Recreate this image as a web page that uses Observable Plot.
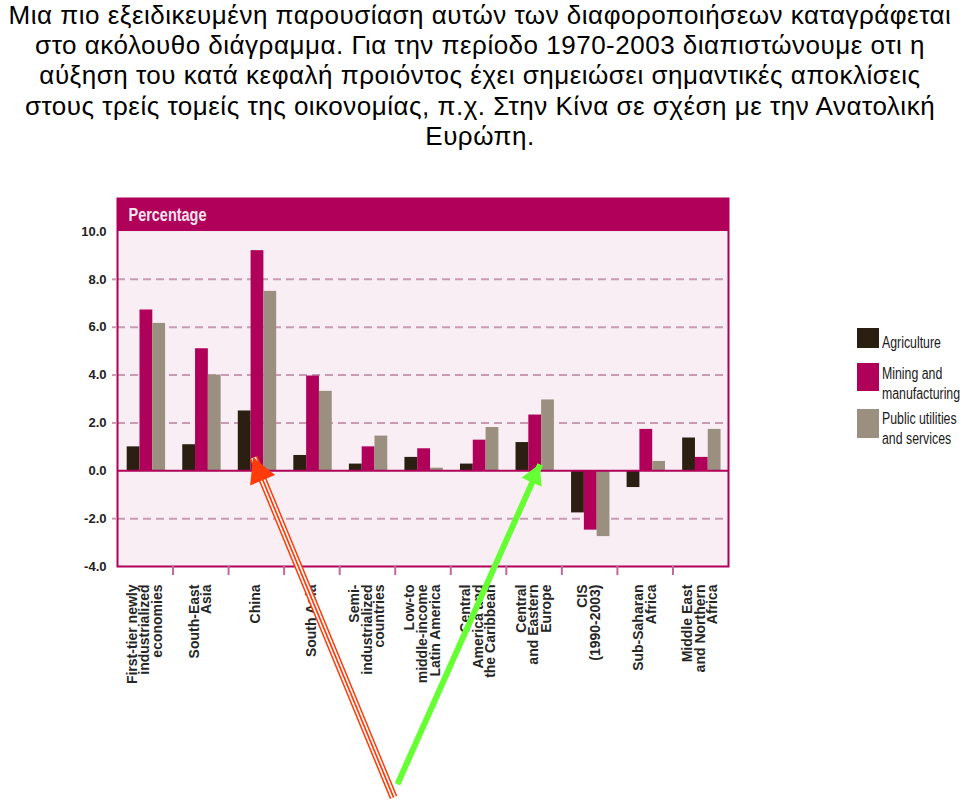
<!DOCTYPE html>
<html>
<head>
<meta charset="utf-8">
<script src="https://cdn.jsdelivr.net/npm/d3@7"></script>
<script src="https://cdn.jsdelivr.net/npm/@observablehq/plot@0.6"></script>
<style>
  html, body { margin: 0; padding: 0; background: #fff; }
  body { position: relative; width: 960px; height: 800px; overflow: hidden; font-family: "Liberation Sans", Arial, sans-serif; }
  #intro { position: absolute; top: 0; left: 0; width: 960px; text-align: center; font-size: 26px; letter-spacing: 0.5px; line-height: 30.2px; color: #000; white-space: nowrap; }
  #chart { position: absolute; top: 190px; left: 0; }
  .legend-item { position: absolute; left: 857px; }
  .legend-swatch { position: absolute; left: 0; width: 22px; }
  .legend-text { position: absolute; left: 25px; font-family: "Liberation Sans", Arial, sans-serif; font-size: 16px; line-height: 20px; color: #1a1a1a; white-space: nowrap; transform: scaleX(0.77); transform-origin: 0 0; }
</style>
</head>
<body>
<div id="intro"></div>
<div id="chart"></div>
<div id="legend"></div>
<script>
// ---- text ----
const introLines = [
  "Μια πιο εξειδικευμένη παρουσίαση αυτών των διαφοροποιήσεων καταγράφεται",
  "στο ακόλουθο διάγραμμα. Για την περίοδο 1970-2003 διαπιστώνουμε οτι η",
  "αύξηση του κατά κεφαλή προιόντος έχει σημειώσει σημαντικές αποκλίσεις",
  "στους τρείς τομείς της οικονομίας, π.χ. Στην Κίνα σε σχέση με την Ανατολική",
  "Ευρώπη."
];
const panelTitle = "Percentage";

// ---- data ----
const regions = [
  "First-tier newly\nindustrialized\neconomies",
  "South-East\nAsia",
  "China",
  "South Asia",
  "Semi-\nindustrialized\ncountries",
  "Low-to\nmiddle-income\nLatin America",
  "Central\nAmerica and\nthe Caribbean",
  "Central\nand Eastern\nEurope",
  "CIS\n(1990-2003)",
  "Sub-Saharan\nAfrica",
  "Middle East\nand Northern\nAfrica"
];
const sectors = ["Agriculture", "Mining and\nmanufacturing", "Public utilities\nand services"];
const agriculture = [1.0, 1.09, 2.5, 0.64, 0.28, 0.56, 0.28, 1.18, -1.76, -0.7, 1.37];
const mining      = [6.72, 5.1, 9.2, 3.96, 1.0, 0.92, 1.28, 2.33, -2.48, 1.73, 0.56];
const services    = [6.16, 4.0, 7.5, 3.32, 1.45, 0.11, 1.81, 2.96, -2.75, 0.39, 1.73];
const yTickValues = [10, 8, 6, 4, 2, 0, -2, -4];
const gridValues = [8, 6, 4, 2, -2];
// annotation arrows (data units: x = region index, y = percentage)
const arrowTails = [[4.97, -13.65], [5.04, -13.1]];
const arrowTips  = [[2.45, 0.55], [7.61, 0.26]];

// ---- styles ----
const colors = ["#2a1f10", "#b0005a", "#9b9080"];
const magenta = "#b0005a";
const panelBg = "#f8eef3";
const gridColor = "#c99bb3";
const labelFont = "'Liberation Sans', Arial, sans-serif";

// intro text
document.getElementById("intro").innerHTML = introLines.map(l => `<div>${l}</div>`).join("");

// long data
const seriesValues = [agriculture, mining, services];
const data = regions.flatMap((r, i) => sectors.map((s, j) => ({i, j, region: r, sector: s, value: seriesValues[j][i]})));

const W = 960, H = 610;
const mL = 117, mR = 232, mT = 8, mB = 234;
const band = (W - mL - mR) / regions.length;
const padLeft = 9.7, barW = 12.8;
const yDomain = [-4, 11.38]; // top part hosts the title bar
const yTop = yDomain[1];

const barMarks = sectors.map((s, j) => Plot.rectY(data.filter(d => d.j === j), {
  x1: d => d.i, x2: d => d.i + 1, y1: 0, y2: "value",
  fill: colors[j],
  insetLeft: padLeft + j * barW,
  insetRight: band - padLeft - (j + 1) * barW
}));

const arrows = arrowTails.map((t, k) => ({x1: t[0], y1: t[1], x2: arrowTips[k][0], y2: arrowTips[k][1], k}));

function arrowHeads(list, {fill, len, width}) {
  return Plot.link(list, {
    x1: "x1", y1: "y1", x2: "x2", y2: "y2",
    render(index, scales) {
      const g = d3.create("svg:g");
      for (const i of index) {
        const d = list[i];
        const X1 = scales.x(d.x1), Y1 = scales.y(d.y1), X2 = scales.x(d.x2), Y2 = scales.y(d.y2);
        const L = Math.hypot(X2 - X1, Y2 - Y1);
        const ux = (X2 - X1) / L, uy = (Y2 - Y1) / L;
        const bx = X2 - ux * len, by = Y2 - uy * len;
        const px = -uy * width / 2, py = ux * width / 2;
        g.append("path")
          .attr("d", `M${X2},${Y2}L${bx + px},${by + py}L${bx - px},${by - py}Z`)
          .attr("fill", fill);
      }
      return g.node();
    }
  });
}

const plot = Plot.plot({
  width: W, height: H,
  marginLeft: mL, marginRight: mR, marginTop: mT, marginBottom: mB,
  style: {background: "transparent", overflow: "visible", fontFamily: labelFont},
  x: {type: "linear", domain: [0, regions.length], label: null},
  y: {domain: yDomain, label: null},
  marks: [
    Plot.frame({fill: panelBg}),
    Plot.ruleY(gridValues, {stroke: gridColor, strokeWidth: 2, strokeDasharray: "8,5"}),
    Plot.rect([panelTitle], {x1: 0, x2: regions.length, y1: 10, y2: yTop, fill: magenta}),
    Plot.text([panelTitle], {frameAnchor: "top-left", dx: 11, dy: 17, lineAnchor: "middle", text: d => d,
      fill: "#f6e4ee", fontSize: 18, fontWeight: "bold"}),
    ...barMarks,
    Plot.ruleY([0], {stroke: magenta, strokeWidth: 2}),
    Plot.frame({stroke: magenta, strokeWidth: 2}),
    Plot.axisY({ticks: gridValues, tickSize: 5, tickFormat: () => "", stroke: gridColor, strokeWidth: 2, label: null}),
    Plot.axisY({ticks: yTickValues, tickSize: 0, tickPadding: 11, tickFormat: d => d.toFixed(1),
      fontSize: 13, fontWeight: "bold", fill: "#222", label: null}),
    Plot.axisX({ticks: d3.range(1, regions.length), tickSize: 9, tickFormat: () => "", stroke: "#c0689a", strokeWidth: 2, label: null}),
    Plot.text(regions, {x: (d, i) => i + 0.5, frameAnchor: "bottom", rotate: -90, textAnchor: "end",
      lineAnchor: "middle", dy: 18, fontSize: 14, fontWeight: "bold", fill: "#262626", lineHeight: 0.9,
      text: d => d}),
    // red arrow: striped shaft
    Plot.link(arrows.filter(a => a.k === 0), {x1: "x1", y1: "y1", x2: "x2", y2: "y2", stroke: "#ff3b0a", strokeWidth: 8}),
    Plot.link(arrows.filter(a => a.k === 0), {x1: "x1", y1: "y1", x2: "x2", y2: "y2", stroke: "#ffffff", strokeWidth: 5}),
    Plot.link(arrows.filter(a => a.k === 0), {x1: "x1", y1: "y1", x2: "x2", y2: "y2", stroke: "#ff3b0a", strokeWidth: 1.7}),
    arrowHeads(arrows.filter(a => a.k === 0), {fill: "#ff3b0a", len: 25, width: 27}),
    // green arrow
    Plot.link(arrows.filter(a => a.k === 1), {x1: "x1", y1: "y1", x2: "x2", y2: "y2", stroke: "#66ff33", strokeWidth: 6}),
    arrowHeads(arrows.filter(a => a.k === 1), {fill: "#66ff33", len: 20, width: 22})
  ]
});
// condense the panel title like the original narrow face
d3.select(plot).selectAll("text").filter(function () { return this.textContent === panelTitle; })
  .attr("textLength", 78).attr("lengthAdjust", "spacingAndGlyphs");
document.getElementById("chart").appendChild(plot);

// legend
const legendTops = [328, 363, 409];
const swatchHeights = [20, 28, 29];
const textOffsets = [4.5, 0.5, -0.5];
const legend = document.getElementById("legend");
sectors.forEach((s, j) => {
  const item = document.createElement("div");
  item.className = "legend-item";
  item.style.top = legendTops[j] + "px";
  const sw = document.createElement("div");
  sw.className = "legend-swatch";
  sw.style.height = swatchHeights[j] + "px";
  sw.style.background = colors[j];
  const tx = document.createElement("div");
  tx.className = "legend-text";
  tx.style.top = textOffsets[j] + "px";
  tx.innerHTML = s.split("\n").join("<br>");
  item.appendChild(sw);
  item.appendChild(tx);
  legend.appendChild(item);
});
</script>
</body>
</html>
